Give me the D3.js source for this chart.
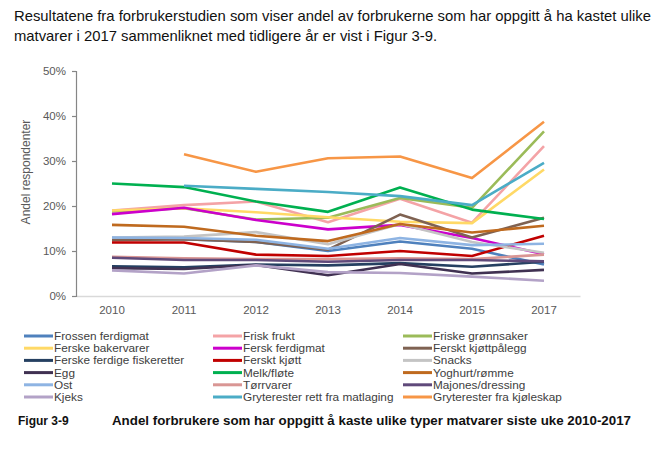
<!DOCTYPE html>
<html><head><meta charset="utf-8">
<script src="https://cdn.jsdelivr.net/npm/d3@7"></script>
<style>body{margin:0;background:#fff}svg{display:block;font-family:"Liberation Sans",Arial,sans-serif}</style>
</head><body><svg id="c" width="662" height="449"></svg>
<script>
const years = ["2010","2011","2012","2013","2014","2015","2017"];
const yTicks = [0,10,20,30,40,50];
const seriesNames = ["Frossen ferdigmat","Frisk frukt","Friske grønnsaker","Ferske bakervarer","Fersk ferdigmat","Ferskt kjøttpålegg","Ferske ferdige fiskeretter","Ferskt kjøtt","Snacks","Egg","Melk/fløte","Yoghurt/rømme","Ost","Tørrvarer","Majones/dressing","Kjeks","Gryterester rett fra matlaging","Gryterester fra kjøleskap"];
const frossenFerdigmat = [12.6,12.6,12.0,10.0,12.1,10.5,7.0];
const friskFrukt = [19.0,20.2,21.0,16.4,21.6,16.3,33.3];
const friskeGronnsaker = [18.8,19.5,17.0,17.4,21.8,19.6,36.6];
const ferskeBakervarer = [19.0,19.5,18.6,17.5,16.5,16.2,28.1];
const ferskFerdigmat = [18.2,19.6,16.9,14.8,15.8,12.9,9.3];
const ferskKjottpalegg = [12.4,12.6,12.0,10.3,18.1,13.0,17.4];
const ferskeFiskeretter = [6.6,6.4,7.0,6.8,7.3,6.5,7.6];
const ferskKjott = [11.9,11.9,9.2,8.9,10.0,8.9,13.4];
const snacks = [13.0,13.2,14.2,11.5,16.0,12.0,9.6];
const egg = [6.2,6.0,6.9,4.6,7.1,5.0,5.8];
const melkFlote = [25.0,24.2,21.0,18.7,24.1,19.2,17.1];
const yoghurtRomme = [15.8,15.4,13.4,12.2,16.0,14.1,15.6];
const ost = [13.0,12.9,12.5,10.5,12.9,11.3,11.6];
const torrvarer = [8.7,8.4,8.2,8.2,8.4,8.2,9.2];
const majones = [8.5,8.0,8.0,7.6,8.0,8.0,7.7];
const kjeks = [5.7,5.0,6.8,5.3,5.1,4.3,3.4];
const gryteMatlaging = [null,24.5,23.8,23.1,22.2,20.2,29.6];
const gryteKjoleskap = [null,31.5,27.6,30.6,31.0,26.2,38.7];
const seriesValues = [frossenFerdigmat,friskFrukt,friskeGronnsaker,ferskeBakervarer,ferskFerdigmat,ferskKjottpalegg,ferskeFiskeretter,ferskKjott,snacks,egg,melkFlote,yoghurtRomme,ost,torrvarer,majones,kjeks,gryteMatlaging,gryteKjoleskap];
const colors = ["#4F81BD","#F4A3A6","#9BBB59","#FFD966","#CC00CC","#7F6252","#254061","#C00000","#C4C4C4","#403152","#00B050","#BF6A1F","#8EB4E3","#D99694","#5F497A","#B3A2C7","#4BACC6","#F79646"];

const svg = d3.select("#c");
svg.append("text").attr("x",14).attr("y",21).attr("font-size",14.5).attr("fill","#111")
  .attr("textLength",637).attr("lengthAdjust","spacingAndGlyphs")
  .text("Resultatene fra forbrukerstudien som viser andel av forbrukerne som har oppgitt å ha kastet ulike");
svg.append("text").attr("x",14).attr("y",41).attr("font-size",14.5).attr("fill","#111")
  .attr("textLength",423).attr("lengthAdjust","spacingAndGlyphs")
  .text("matvarer i 2017 sammenliknet med tidligere år er vist i Figur 3-9.");

const x = d3.scaleBand().domain(years).range([76,580]);
const y = d3.scaleLinear().domain([0,50]).range([296,71]);

const xAxis = svg.append("g").attr("transform","translate(0,296)")
  .call(d3.axisBottom(x).tickSize(0).tickPadding(10));
xAxis.select(".domain").attr("stroke","#D9D9D9").attr("stroke-width",1.5);
xAxis.selectAll("text").attr("font-size",11.5).attr("fill","#595959").attr("font-family","Liberation Sans, Arial, sans-serif");

const yAxis = svg.append("g").attr("transform","translate(76,0)")
  .call(d3.axisLeft(y).tickValues(yTicks).tickFormat(d=>d+"%").tickSize(4).tickSizeOuter(4).tickPadding(6));
yAxis.select(".domain").attr("stroke","#868686").attr("stroke-width",1.2);
yAxis.selectAll(".tick line").attr("stroke","#868686").attr("stroke-width",1.2);
yAxis.selectAll("text").attr("font-size",11.5).attr("fill","#595959").attr("font-family","Liberation Sans, Arial, sans-serif");

svg.append("text").attr("transform","translate(30,172) rotate(-90)").attr("text-anchor","middle")
  .attr("font-size",12).attr("fill","#595959").text("Andel respondenter");

const line = d3.line().defined(d=>d!=null).x((d,i)=>x(years[i])+x.bandwidth()/2).y(d=>y(d)).curve(d3.curveLinear);
const gLines = svg.append("g");
seriesValues.forEach((vals,k)=>{
  gLines.append("path").attr("d",line(vals)).attr("fill","none").attr("stroke",colors[k])
    .attr("stroke-width",2.6).attr("stroke-linejoin","round").attr("stroke-linecap","butt");
});

const colX = [24,213,403];
const leg = svg.append("g");
seriesNames.forEach((n,i)=>{
  const c = i%3, r = Math.floor(i/3);
  const ly = 336 + r*12.2;
  leg.append("line").attr("x1",colX[c]).attr("x2",colX[c]+29).attr("y1",ly).attr("y2",ly)
    .attr("stroke",colors[i]).attr("stroke-width",3);
  const t = leg.append("text").attr("x",colX[c]+30).attr("y",ly+4).attr("font-size",11).attr("fill","#404040").text(n);
  const w = t.node().getComputedTextLength();
  t.attr("textLength",w*1.07).attr("lengthAdjust","spacingAndGlyphs");
});

svg.append("text").attr("x",18).attr("y",425).attr("font-size",12).attr("font-weight","bold").attr("fill","#111").text("Figur 3-9");
svg.append("text").attr("x",112).attr("y",425).attr("font-size",12).attr("font-weight","bold").attr("fill","#111")
  .attr("textLength",519).attr("lengthAdjust","spacingAndGlyphs")
  .text("Andel forbrukere som har oppgitt å kaste ulike typer matvarer siste uke 2010-2017");
</script></body></html>
